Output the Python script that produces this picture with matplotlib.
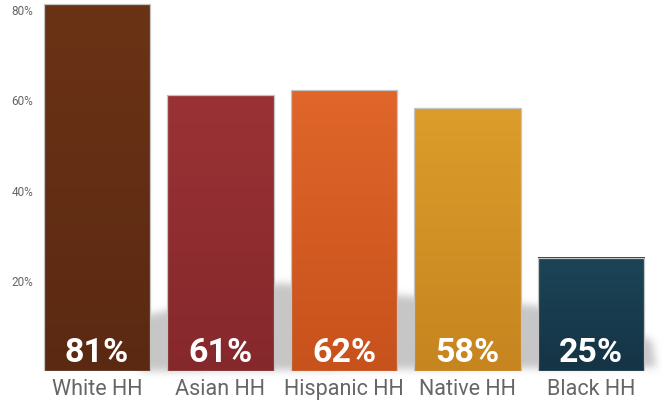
import numpy as np
import matplotlib
matplotlib.use('Agg')
import matplotlib.pyplot as plt
from matplotlib.path import Path
from matplotlib.colors import to_rgb

# dados
categorias = ['White HH', 'Asian HH', 'Hispanic HH', 'Native HH', 'Black HH']
valores = [81, 61, 62, 58, 25]
rotulos = ['81%', '61%', '62%', '58%', '25%']
cor_topo = ['#6b3316', '#9a3235', '#e0662a', '#dc9d2b', '#1c4457']
cor_base = ['#5b2912', '#85282c', '#c8521c', '#c6851f', '#153445']
yticks = [20, 40, 60, 80]

plt.rcParams['font.family'] = ['Roboto', 'DejaVu Sans']

fig = plt.figure(figsize=(6.62, 4.02), dpi=100)

# sombra difusa atrás das barras (fundo, em pixels da figura)
W, H = 662, 402
ax_bg = fig.add_axes([0, 0, 1, 1], zorder=0)
ax_bg.set_xlim(0, W)
ax_bg.set_ylim(H, 0)
ax_bg.axis('off')
sombra = Path([(140, 372), (140, 318), (280, 284), (405, 297), (530, 306),
               (600, 318), (652, 342), (656, 368), (140, 372)])
xx, yy = np.meshgrid(np.arange(W) + 0.5, np.arange(H) + 0.5)
mask = sombra.contains_points(np.c_[xx.ravel(), yy.ravel()]).reshape(H, W).astype(float)
k = np.exp(-0.5 * (np.arange(-12, 13) / 4.0) ** 2)
k = k / k.sum()
mask = np.apply_along_axis(lambda r: np.convolve(r, k, mode='same'), 1, mask)
mask = np.apply_along_axis(lambda c: np.convolve(c, k, mode='same'), 0, mask)
img = np.zeros((H, W, 4))
img[..., :3] = 0.78
img[..., 3] = mask
ax_bg.imshow(img, extent=(0, W, H, 0), aspect='auto', interpolation='bilinear')

# eixo principal
ax = fig.add_axes([40 / W, 1 - 371.7 / H, 608 / W, 371.7 / H], zorder=1)
ax.patch.set_alpha(0)
x = np.arange(len(categorias))
largura = 0.86
barras = ax.bar(x, valores, width=largura, color='none', edgecolor='#c4c4c4', linewidth=0.9, zorder=3)

for i, b in enumerate(barras):
    t = np.array(to_rgb(cor_topo[i]))
    f = np.array(to_rgb(cor_base[i]))
    s = np.linspace(0, 1, 256)[:, None]
    grad = (t * (1 - s) + f * s)[:, None, :]
    ax.imshow(grad, extent=(x[i] - largura / 2, x[i] + largura / 2, 0, valores[i]),
              aspect='auto', zorder=2, interpolation='nearest')
    ax.text(x[i], 2.2, rotulos[i], ha='center', va='baseline', color='white',
            fontsize=24.5, fontweight='bold', zorder=4)

ax.set_xlim(-0.46, 4.46)
ax.set_ylim(0, 82.2)
ax.set_xticks(x)
ax.set_xticklabels(categorias, fontsize=15.5, color='#666666')
ax.set_yticks(yticks)
ax.set_yticklabels([str(v) + '%' for v in yticks], fontsize=8.5, color='#666666')
ax.tick_params(axis='both', length=0)
ax.tick_params(axis='x', pad=5)
ax.tick_params(axis='y', pad=5)
for lado in ax.spines.values():
    lado.set_visible(False)

plt.savefig('out.png', dpi=100)
